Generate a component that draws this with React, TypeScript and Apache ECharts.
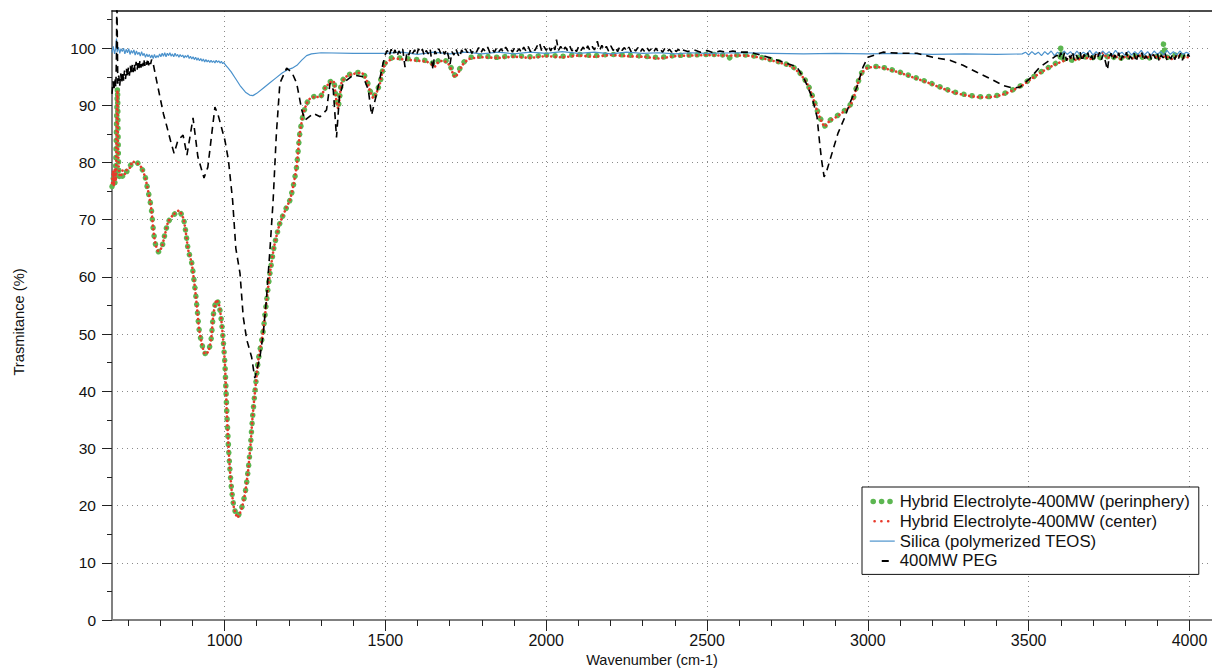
import React, { useEffect, useRef } from 'react';
import * as echarts from 'echarts';

const FONT = '"Liberation Sans", Arial, Helvetica, sans-serif';

const xMajorTicks = [1000, 1500, 2000, 2500, 3000, 3500, 4000];
const xMinorTicks = [700, 800, 900, 1000, 1100, 1200, 1300, 1400, 1500, 1600, 1700, 1800, 1900, 2000, 2100, 2200, 2300, 2400, 2500, 2600, 2700, 2800, 2900, 3000, 3100, 3200, 3300, 3400, 3500, 3600, 3700, 3800, 3900, 4000];
const yMajorTicks = [0, 10, 20, 30, 40, 50, 60, 70, 80, 90, 100];
const yMinorTicks = [5, 15, 25, 35, 45, 55, 65, 75, 85, 95, 105];

const seriesNames = [
  'Hybrid Electrolyte-400MW (perinphery)',
  'Hybrid Electrolyte-400MW (center)',
  'Silica (polymerized TEOS)',
  '400MW PEG',
];

const hybridPeriphery: [number, number][] = [
  [650, 75.8], [654, 77.2], [658, 76.1], [661, 77.8], [664, 86], [667, 93], [669, 84], [672, 77.4], [677, 78.3], [683, 77.6],
  [690, 78.6], [698, 78.4], [706, 79.4], [714, 79.9], [721, 80.1], [730, 79.9], [742, 79.0], [752, 77.8], [760, 75.6], [768, 73.4],
  [773, 71.5], [778, 68.5], [784, 66.0], [794, 64.4], [804, 65.0], [815, 67.6], [825, 69.6], [841, 70.8], [858, 71.5], [872, 70.2],
  [880, 67.6], [887, 64.7], [898, 62.4], [905, 59.4], [911, 56.5], [916, 53.6], [921, 50.7], [929, 48.4], [939, 46.6], [949, 46.9],
  [958, 49.0], [965, 53.3], [975, 56.0], [983, 55.0], [990, 52.4], [995, 49.5], [1001, 44.9], [1004, 40.8], [1007, 36.2], [1011, 31.5],
  [1016, 26.8], [1022, 22.7], [1029, 19.8], [1040, 18.1], [1053, 19.6], [1064, 22.2], [1074, 26.5], [1081, 30.9], [1087, 35.5], [1095, 40.2],
  [1105, 45.5], [1119, 50.1], [1131, 56.0], [1141, 60.6], [1154, 65.3], [1172, 69.4], [1193, 72.2], [1203, 73.4], [1214, 76.0], [1224, 79.3],
  [1234, 85.1], [1245, 88.6], [1256, 90.4], [1266, 91.2], [1282, 91.6], [1297, 91.5], [1312, 93.0], [1328, 94.1], [1338, 94.4], [1348, 90.9],
  [1353, 89.7], [1358, 91.5], [1364, 94.1], [1380, 95.2], [1400, 95.6], [1426, 95.8], [1442, 94.4], [1452, 92.6], [1462, 91.5], [1473, 92.4],
  [1483, 93.9], [1491, 96.0], [1499, 97.4], [1525, 98.4], [1560, 98.2], [1600, 98.0], [1630, 97.8], [1645, 97.4], [1654, 97.0], [1665, 97.8],
  [1680, 98.0], [1695, 97.5], [1706, 96.4], [1716, 95.3], [1726, 95.9], [1740, 97.3], [1760, 98.3], [1800, 98.6], [1850, 98.4], [1900, 98.7],
  [1950, 98.5], [2000, 98.8], [2050, 98.6], [2100, 98.9], [2150, 98.7], [2200, 98.9], [2250, 98.8], [2300, 98.6], [2350, 98.4], [2400, 98.7],
  [2450, 98.8], [2500, 98.9], [2550, 98.8], [2567, 98.2], [2580, 98.8], [2620, 98.8], [2650, 98.6], [2690, 98.1], [2730, 97.5], [2765, 96.8],
  [2790, 95.6], [2812, 93.8], [2828, 91.6], [2842, 89.2], [2855, 87.4], [2866, 86.4], [2880, 87.3], [2900, 88.0], [2920, 88.8], [2940, 89.6],
  [2955, 91.3], [2968, 93.8], [2982, 95.8], [3000, 96.7], [3030, 96.8], [3070, 96.3], [3110, 95.6], [3150, 94.8], [3190, 94.0], [3230, 93.1],
  [3270, 92.3], [3310, 91.8], [3350, 91.5], [3390, 91.6], [3420, 92.0], [3450, 92.7], [3480, 93.6], [3510, 94.8], [3545, 96.1], [3580, 97.2],
  [3597, 98.0], [3600, 100.2], [3604, 97.9], [3620, 98.3], [3635, 97.9], [3650, 98.5], [3665, 98.0], [3680, 98.6], [3695, 98.2], [3710, 98.8],
  [3725, 98.3], [3740, 98.7], [3755, 98.0], [3770, 98.6], [3785, 98.2], [3800, 98.8], [3815, 98.3], [3830, 98.7], [3845, 98.1], [3860, 98.7],
  [3875, 98.3], [3890, 98.8], [3905, 98.4], [3914, 98.8], [3920, 100.9], [3926, 98.6], [3940, 98.3], [3955, 98.8], [3970, 98.4], [3985, 98.7],
  [4000, 98.5],
];

const hybridCenter: [number, number][] = [
  [650, 76.4], [653, 78.5], [656, 75.9], [659, 79.0], [662, 76.8], [664, 85], [667, 92.6], [669, 83], [672, 78.1], [677, 77.5], [683, 78.6],
  [690, 78.0], [698, 79.0], [706, 79.1], [714, 80.2], [721, 80.0], [730, 79.8], [742, 79.1], [752, 77.6], [760, 75.7], [768, 73.3],
  [773, 71.5], [778, 68.6], [784, 66.0], [794, 64.5], [804, 65.1], [815, 67.5], [825, 69.7], [841, 70.9], [858, 71.6], [872, 70.2],
  [880, 67.6], [887, 64.7], [898, 62.3], [905, 59.4], [911, 56.5], [916, 53.6], [921, 50.8], [929, 48.4], [939, 46.5], [949, 46.9],
  [958, 49.0], [965, 53.3], [975, 56.0], [983, 55.1], [990, 52.4], [995, 49.5], [1001, 44.9], [1004, 40.8], [1007, 36.2], [1011, 31.5],
  [1016, 26.8], [1022, 22.7], [1029, 19.7], [1040, 17.9], [1053, 19.5], [1064, 22.2], [1074, 26.5], [1081, 30.9], [1087, 35.5], [1095, 40.2],
  [1105, 45.5], [1119, 50.1], [1131, 56.0], [1141, 60.6], [1154, 65.3], [1172, 69.4], [1193, 72.2], [1203, 73.4], [1214, 76.0], [1224, 79.3],
  [1234, 85.1], [1245, 88.6], [1256, 90.4], [1266, 91.2], [1282, 91.5], [1297, 91.4], [1312, 93.0], [1328, 94.0], [1338, 94.3], [1348, 90.7],
  [1353, 89.5], [1358, 91.4], [1364, 94.0], [1380, 95.1], [1400, 95.5], [1426, 95.7], [1442, 94.3], [1452, 92.5], [1462, 91.3], [1473, 92.3],
  [1483, 93.8], [1491, 95.9], [1499, 97.2], [1525, 98.2], [1560, 98.0], [1600, 97.8], [1630, 97.6], [1645, 97.1], [1654, 96.8], [1665, 97.6],
  [1680, 97.8], [1695, 97.3], [1706, 96.1], [1716, 94.9], [1726, 95.6], [1740, 97.1], [1760, 98.1], [1800, 98.4], [1850, 98.3], [1900, 98.5],
  [1950, 98.3], [2000, 98.6], [2050, 98.4], [2100, 98.7], [2150, 98.5], [2200, 98.8], [2250, 98.6], [2300, 98.5], [2350, 98.2], [2400, 98.6],
  [2450, 98.7], [2500, 98.8], [2550, 98.7], [2580, 98.7], [2620, 98.7], [2650, 98.5], [2690, 98.0], [2730, 97.4], [2765, 96.7],
  [2790, 95.5], [2812, 93.7], [2828, 91.5], [2842, 89.1], [2855, 87.3], [2866, 86.3], [2880, 87.2], [2900, 87.9], [2920, 88.7], [2940, 89.5],
  [2955, 91.2], [2968, 93.7], [2982, 95.7], [3000, 96.6], [3030, 96.7], [3070, 96.2], [3110, 95.5], [3150, 94.7], [3190, 93.9], [3230, 93.0],
  [3270, 92.2], [3310, 91.7], [3350, 91.4], [3390, 91.5], [3420, 91.9], [3450, 92.6], [3480, 93.5], [3510, 94.7], [3545, 96.0], [3580, 97.1],
  [3610, 97.8], [3630, 98.3], [3650, 97.9], [3670, 98.5], [3690, 98.1], [3710, 98.7], [3730, 99.2], [3745, 98.3], [3765, 98.7], [3785, 98.1],
  [3805, 98.6], [3825, 98.2], [3845, 98.7], [3865, 98.3], [3885, 98.8], [3905, 98.2], [3925, 98.6], [3945, 98.1], [3965, 98.7], [3985, 98.3],
  [4000, 98.5],
];

const silica: [number, number][] = [
  [650, 99.2], [654, 100.3], [658, 99.0], [662, 100.1], [664, 101.7], [666, 99.3], [670, 100.2], [674, 99.1], [678, 99.9], [682, 99.4],
  [686, 100.0], [690, 99.0], [694, 99.8], [698, 99.2], [702, 99.9], [706, 98.9], [710, 99.6], [714, 99.1], [718, 99.7], [722, 98.8],
  [726, 99.5], [730, 98.9], [734, 99.3], [738, 98.6], [742, 99.4], [746, 98.7], [750, 99.1], [754, 98.4], [758, 99.0], [762, 98.5],
  [766, 98.9], [770, 98.3], [774, 98.8], [778, 98.2], [782, 98.9], [786, 98.3], [790, 98.7], [794, 98.4], [798, 99.0], [802, 98.5],
  [806, 99.1], [810, 98.6], [814, 99.2], [818, 98.5], [822, 99.1], [826, 98.7], [830, 99.2], [834, 98.6], [838, 99.0], [842, 98.5],
  [846, 99.1], [850, 98.6], [854, 98.9], [858, 98.4], [862, 98.9], [866, 98.5], [870, 98.8], [874, 98.3], [878, 98.7], [882, 98.4],
  [886, 98.8], [890, 98.2], [894, 98.6], [898, 98.1], [902, 98.5], [906, 98.0], [910, 98.4], [914, 97.9], [918, 98.3], [922, 97.8],
  [926, 98.2], [930, 97.7], [934, 98.1], [938, 97.6], [942, 98.0], [946, 97.6], [950, 97.9], [954, 97.5], [958, 97.9], [962, 97.5],
  [966, 97.8], [970, 97.4], [974, 97.9], [978, 97.5], [982, 97.8], [986, 97.4], [990, 97.7], [994, 97.3], [998, 97.5], [1002, 97.1],
  [1010, 96.6], [1020, 95.9], [1035, 94.6], [1050, 93.3], [1065, 92.3], [1078, 91.8], [1088, 91.7], [1100, 92.1], [1120, 93.0], [1140, 93.9],
  [1160, 94.8], [1180, 95.7], [1195, 96.2], [1210, 96.5], [1225, 97.0], [1240, 97.9], [1255, 98.7], [1270, 99.0], [1300, 99.2], [1400, 99.1],
  [1500, 99.1], [1550, 99.3], [1600, 98.9], [1650, 99.3], [1700, 99.0], [1750, 99.3], [1800, 99.0], [1850, 99.3], [1900, 99.0], [1950, 99.3],
  [2000, 99.1], [2050, 99.4], [2100, 99.1], [2150, 99.3], [2200, 99.0], [2250, 99.3], [2300, 99.1], [2350, 99.2], [2400, 99.0], [2450, 99.2],
  [2500, 99.1], [2600, 99.2], [2700, 99.1], [2800, 99.0], [2900, 99.1], [3000, 99.0], [3100, 99.1], [3200, 98.9], [3300, 99.0], [3400, 98.9],
  [3480, 99.0], [3490, 99.3], [3500, 98.8], [3510, 99.4], [3520, 98.9], [3530, 99.3], [3540, 98.7], [3550, 99.4], [3560, 98.9], [3570, 99.5],
  [3580, 98.7], [3590, 99.3], [3600, 98.8], [3610, 99.5], [3620, 98.9], [3630, 99.4], [3640, 98.7], [3650, 99.5], [3660, 98.8], [3670, 99.3],
  [3680, 98.9], [3690, 99.6], [3700, 98.8], [3710, 99.4], [3720, 98.7], [3730, 99.5], [3740, 98.9], [3750, 99.4], [3760, 98.8], [3770, 99.6],
  [3780, 98.9], [3790, 99.3], [3800, 98.7], [3810, 99.5], [3820, 98.8], [3830, 99.4], [3840, 98.9], [3850, 99.6], [3860, 98.8], [3870, 99.4],
  [3880, 98.7], [3890, 99.5], [3900, 98.9], [3910, 99.4], [3920, 98.8], [3930, 99.6], [3940, 98.9], [3950, 99.4], [3960, 98.8], [3970, 99.5],
  [3980, 98.9], [3990, 99.3], [4000, 99.0],
];

const peg: [number, number][] = [
  [650, 92.0], [653, 94.2], [656, 92.6], [659, 94.8], [662, 93.1], [664, 99], [665, 110], [666.5, 110], [668, 93.8], [671, 95.2],
  [674, 93.4], [677, 95.6], [680, 93.9], [683, 95.9], [686, 94.3], [689, 96.1], [692, 94.6], [695, 96.4], [698, 94.9], [701, 96.6],
  [704, 95.2], [707, 96.9], [710, 95.4], [713, 97.1], [716, 95.8], [719, 97.3], [722, 96.0], [725, 97.6], [728, 96.2], [731, 97.4],
  [734, 96.5], [737, 97.9], [740, 96.6], [743, 97.7], [746, 96.8], [749, 98.1], [752, 96.9], [755, 97.8], [758, 97.1], [761, 98.2],
  [764, 97.0], [767, 97.9], [770, 97.2], [773, 98.0], [777, 97.6],
  [788, 94.5], [799, 91.5], [810, 88.5], [821, 86.2], [832, 83.8], [843, 81.6], [855, 83.9], [871, 84.8], [883, 81.3],
  [902, 87.8], [917, 81.0], [936, 77.3], [948, 79.2], [970, 89.7], [980, 88.3], [1001, 83.9], [1012, 80.4], [1025, 73.4], [1035, 65.0],
  [1048, 60.6], [1058, 53.0], [1069, 49.0], [1084, 46.0], [1094, 42.3], [1110, 46.0], [1120, 50.0], [1130, 56.0], [1141, 64.7], [1151, 73.4],
  [1161, 85.0], [1172, 93.9], [1193, 96.5], [1209, 95.8], [1224, 93.9], [1240, 89.2], [1250, 87.4], [1276, 88.6], [1297, 88.0], [1317, 89.2],
  [1328, 93.9], [1338, 92.7], [1348, 84.4], [1357, 91.5], [1369, 93.9], [1400, 95.3], [1431, 95.0], [1447, 92.7], [1457, 88.3], [1473, 92.1],
  [1493, 97.4], [1500, 98.9], [1506, 99.6], [1512, 98.7], [1518, 99.8], [1524, 98.9], [1530, 99.7], [1536, 98.6], [1542, 99.5], [1548, 99.0],
  [1554, 99.8], [1561, 96.7], [1567, 99.4], [1573, 98.8], [1579, 99.9], [1585, 99.1], [1591, 99.7], [1597, 98.8], [1603, 99.9], [1609, 99.2],
  [1615, 99.8], [1621, 98.7], [1627, 99.6], [1633, 99.0], [1639, 99.9], [1648, 96.2], [1654, 99.5], [1660, 98.9], [1666, 99.9], [1672, 99.1],
  [1678, 99.7], [1684, 98.9], [1690, 99.8], [1696, 98.6], [1701, 97.2], [1707, 99.4], [1713, 98.8], [1719, 99.9], [1725, 99.0], [1731, 98.4],
  [1737, 99.7], [1743, 99.1], [1749, 99.9], [1755, 99.2], [1762, 100.0], [1769, 99.1], [1776, 99.8], [1783, 99.3], [1790, 100.1], [1797, 99.2],
  [1804, 99.9], [1811, 99.4], [1818, 100.2], [1825, 99.2], [1832, 99.8], [1839, 99.3], [1846, 100.1], [1853, 99.4], [1860, 99.9], [1867, 99.3],
  [1874, 100.2], [1881, 99.5], [1888, 100.0], [1895, 99.3], [1902, 100.1], [1909, 99.4], [1916, 99.9], [1923, 99.2], [1930, 100.2], [1937, 99.5],
  [1944, 100.3], [1951, 99.4], [1958, 100.0], [1965, 99.6], [1972, 100.4], [1979, 101.0], [1986, 99.5], [1993, 100.3], [2000, 99.6], [2007, 100.4],
  [2014, 99.5], [2021, 100.5], [2027, 99.7], [2032, 101.5], [2038, 99.6], [2045, 100.3], [2052, 99.5], [2059, 100.2], [2066, 99.6], [2073, 100.4],
  [2080, 99.5], [2087, 100.1], [2094, 99.4], [2101, 100.3], [2108, 99.6], [2115, 100.2], [2122, 99.5], [2129, 100.4], [2136, 99.6], [2143, 100.3],
  [2150, 99.7], [2159, 101.2], [2166, 99.6], [2173, 100.5], [2180, 99.7], [2187, 100.3], [2194, 99.5], [2201, 100.4], [2208, 99.6], [2215, 100.2],
  [2222, 99.4], [2229, 100.3], [2236, 99.6], [2243, 100.1], [2250, 99.5], [2257, 100.2], [2264, 99.4], [2271, 100.0], [2278, 99.5], [2285, 100.1],
  [2292, 99.3], [2299, 99.9], [2306, 99.4], [2313, 100.1], [2320, 99.5], [2327, 99.9], [2334, 99.3], [2341, 100.0], [2348, 99.4], [2355, 99.8],
  [2362, 99.3], [2369, 100.0], [2376, 99.4], [2383, 99.8], [2390, 99.3], [2397, 99.9], [2404, 99.4], [2411, 99.8], [2418, 99.3], [2425, 99.7],
  [2440, 99.4], [2460, 99.7], [2480, 99.3], [2500, 99.6], [2520, 99.2], [2540, 99.5], [2560, 99.3], [2580, 99.5], [2600, 99.3], [2633, 99.3],
  [2680, 98.6], [2736, 97.6], [2780, 96.7], [2804, 94.4], [2826, 91.5], [2842, 88.0], [2850, 83.5], [2856, 80.5], [2864, 77.5], [2872, 78.5],
  [2882, 80.4], [2907, 85.1], [2929, 88.0], [2944, 90.4], [2966, 93.2], [2985, 96.7], [3000, 98.4], [3047, 99.3], [3100, 99.1], [3153, 99.1],
  [3202, 98.4], [3255, 97.9], [3296, 97.0], [3339, 95.8], [3379, 94.7], [3420, 93.5], [3451, 93.0], [3473, 93.2], [3504, 94.7], [3535, 96.7],
  [3566, 97.9], [3588, 98.8], [3594, 98.1], [3600, 99.2], [3606, 98.0], [3612, 99.3], [3618, 97.8], [3624, 98.9], [3630, 98.2], [3636, 99.4],
  [3642, 97.9], [3648, 98.8], [3654, 98.1], [3660, 99.3], [3666, 97.7], [3672, 98.9], [3678, 98.3], [3684, 99.2], [3690, 97.9], [3696, 98.7],
  [3702, 97.6], [3708, 99.0], [3714, 98.2], [3720, 99.3], [3726, 98.0], [3732, 98.9], [3738, 97.8], [3745, 96.2], [3750, 98.4], [3756, 99.1],
  [3762, 97.9], [3768, 98.8], [3774, 98.1], [3780, 99.2], [3786, 97.8], [3792, 98.7], [3798, 98.2], [3804, 99.3], [3810, 97.9], [3816, 98.6],
  [3822, 98.1], [3828, 99.1], [3834, 97.6], [3840, 98.8], [3846, 98.3], [3852, 99.2], [3858, 97.8], [3864, 98.7], [3870, 98.1], [3876, 99.0],
  [3882, 97.9], [3888, 98.9], [3894, 98.2], [3900, 99.1], [3906, 97.7], [3912, 98.8], [3918, 98.3], [3924, 99.2], [3930, 97.9], [3936, 98.6],
  [3942, 98.1], [3948, 99.0], [3954, 98.0], [3960, 98.9], [3966, 98.2], [3972, 99.1], [3978, 97.9], [3984, 98.8], [3990, 98.3], [3996, 98.9],
  [4000, 98.5],
];

const GREEN = '#5cb651';
const RED = '#e8392b';
const BLUE = '#4b92cc';
const BLACK = '#000000';

export default function App() {
  const ref = useRef<HTMLDivElement>(null);

  useEffect(() => {
    if (!ref.current) return;
    const chart = echarts.init(ref.current, undefined, { renderer: 'svg' });
    const tickLine = { color: '#222', width: 1 };
    const gridDots = { color: '#8a8a8a', width: 1, type: [1, 4] as number[] };
    const option: any = {
      animation: false,
      backgroundColor: '#ffffff',
      textStyle: { fontFamily: FONT },
      grid: { left: 112, top: 11, width: 1100, height: 609, containLabel: false },
      xAxis: [
        {
          type: 'value', position: 'bottom', min: 650, max: 4070, splitNumber: 7, minInterval: 500, maxInterval: 500,
          axisLine: { show: true, onZero: false, lineStyle: { color: '#808080', width: 2 } },
          axisTick: { show: true, length: 11, lineStyle: tickLine, customValues: xMajorTicks },
          axisLabel: {
            customValues: xMajorTicks, margin: 12, fontSize: 16, color: '#111', fontFamily: FONT,
            formatter: (v: number) => (v % 500 === 0 ? String(v) : ''),
          },
          splitLine: { show: true, lineStyle: gridDots },
        },
        {
          type: 'value', position: 'bottom', min: 650, max: 4070, splitNumber: 34, minInterval: 100, maxInterval: 100,
          axisLine: { show: false, onZero: false },
          axisTick: { show: true, length: 6, lineStyle: tickLine, customValues: xMinorTicks },
          axisLabel: { show: false },
          splitLine: { show: false },
        },
        {
          type: 'value', position: 'top', min: 650, max: 4070,
          axisLine: { show: true, onZero: false, lineStyle: { color: '#111', width: 1.5 } },
          axisTick: { show: false }, axisLabel: { show: false }, splitLine: { show: false },
        },
      ],
      yAxis: [
        {
          type: 'value', position: 'left', min: 0, max: 106.5, interval: 10,
          axisLine: { show: true, onZero: false, lineStyle: { color: '#808080', width: 2 } },
          axisTick: { show: true, length: 10, lineStyle: tickLine, customValues: yMajorTicks },
          axisLabel: {
            customValues: yMajorTicks, margin: 16, fontSize: 15.5, color: '#111', fontFamily: FONT,
            formatter: (v: number) => (v % 10 === 0 ? String(v) : ''),
          },
          splitLine: { show: true, lineStyle: gridDots },
        },
        {
          type: 'value', position: 'left', min: 0, max: 106.5, interval: 5,
          axisLine: { show: false, onZero: false },
          axisTick: { show: true, length: 5, lineStyle: tickLine, customValues: yMinorTicks },
          axisLabel: { show: false },
          splitLine: { show: false },
        },
      ],
      legend: {
        orient: 'vertical', left: 862, top: 487,
        itemWidth: 25, itemHeight: 14, itemGap: 2.8,
        padding: [6, 9, 5, 5],
        borderColor: '#111', borderWidth: 1, backgroundColor: '#ffffff',
        itemStyle: { color: 'rgba(0,0,0,0)', borderColor: 'rgba(0,0,0,0)', borderWidth: 0, opacity: 0 },
        textStyle: { fontSize: 16.8, color: '#111', fontFamily: FONT },
        data: [
          { name: seriesNames[0], lineStyle: { color: GREEN, width: 5.5, type: [0.1, 8.3], cap: 'round', dashOffset: 5.3 } },
          { name: seriesNames[1], lineStyle: { color: RED, width: 2.6, type: [0.1, 6.7], cap: 'round', dashOffset: 1.5 } },
          { name: seriesNames[2], lineStyle: { color: BLUE, width: 1.2, type: 'solid' } },
          { name: seriesNames[3], lineStyle: { color: BLACK, width: 2, type: [0, 12, 7, 100], cap: 'butt' } },
        ],
      },
      graphic: [
        {
          type: 'text', x: 652, y: 660,
          style: {
            text: 'Wavenumber (cm-1)', fontSize: 14.5, fontFamily: FONT, fill: '#111',
            align: 'center', verticalAlign: 'middle', textAlign: 'center', textVerticalAlign: 'middle',
          },
        },
        {
          type: 'text', x: 19, y: 322, rotation: Math.PI / 2,
          style: {
            text: 'Trasmitance (%)', fontSize: 14.7, fontFamily: FONT, fill: '#111',
            align: 'center', verticalAlign: 'middle', textAlign: 'center', textVerticalAlign: 'middle',
          },
        },
      ],
      series: [
        {
          name: seriesNames[0], type: 'line', data: hybridPeriphery, symbol: 'none', smooth: 0.2,
          lineStyle: { color: GREEN, width: 5.5, type: [0.1, 8.3], cap: 'round' },
          itemStyle: { color: GREEN }, z: 2,
        },
        {
          name: seriesNames[1], type: 'line', data: hybridCenter, symbol: 'none', smooth: 0.2,
          lineStyle: { color: RED, width: 2.6, type: [0.1, 4.2], cap: 'round' },
          itemStyle: { color: RED }, z: 3,
        },
        {
          name: seriesNames[2], type: 'line', data: silica, symbol: 'none',
          lineStyle: { color: BLUE, width: 1.2 },
          itemStyle: { color: BLUE }, z: 4,
        },
        {
          name: seriesNames[3], type: 'line', data: peg, symbol: 'none',
          lineStyle: { color: BLACK, width: 1.6, type: [7, 5] },
          itemStyle: { color: BLACK }, z: 5,
        },
      ],
    };
    chart.setOption(option);
    return () => chart.dispose();
  }, []);

  return (
    <div
      ref={ref}
      style={{ position: 'absolute', left: 0, top: 0, width: 1212, height: 670, background: '#fff' }}
    />
  );
}
